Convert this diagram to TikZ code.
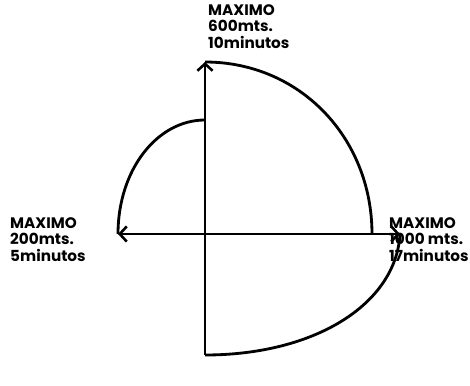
\documentclass[tikz,border=0pt]{standalone}
\usepackage{fontspec}
\setsansfont{Poppins}
\usetikzlibrary{positioning,calc}
\usetikzlibrary{arrows.meta}
\tikzset{
  axis/.style={draw=black,line width=2.4pt},
  route/.style={draw=black,line width=2.4pt},
  barb/.tip={Straight Barb[length=6pt,width=13pt,line width=2.2pt]},
  lbl/.style={font=\sffamily\bfseries\fontsize{13}{14.2}\selectfont,align=left,
    inner sep=0pt,anchor=north west},
}

\begin{document}
\begin{tikzpicture}[x=0.03cm,y=-0.03cm]
\useasboundingbox (0,0) rectangle (470,385);
\coordinate (o) at (205,234);
\coordinate (n) at (205,62);
\coordinate (s) at (205,355);
\coordinate (w) at (118,234);
\coordinate (e) at (400,234);
\coordinate (k) at (205,120);
\coordinate (m) at (372,234);
% axes
\draw[axis,-barb] (s) -- (n);
\draw[axis,barb-barb] (w) -- (e);
% routes
\draw[route] (n) .. controls +(95,0) and +(0,-96) .. (m);
\draw[route] (k) .. controls +(-48,0) and +(0,-64) .. (w);
\draw[route] (s) .. controls +(110,0) and +(-4,70) .. (e);
% labels
\node[lbl] (top) at (208,4) {MAXIMO\\600mts.\\10minutos};
\node[lbl] (left) at (10,217) {MAXIMO\\200mts.\\5minutos};
\node[lbl] (right) at (389,217) {MAXIMO\\1000 mts.\\17minutos};
\end{tikzpicture}
\end{document}
